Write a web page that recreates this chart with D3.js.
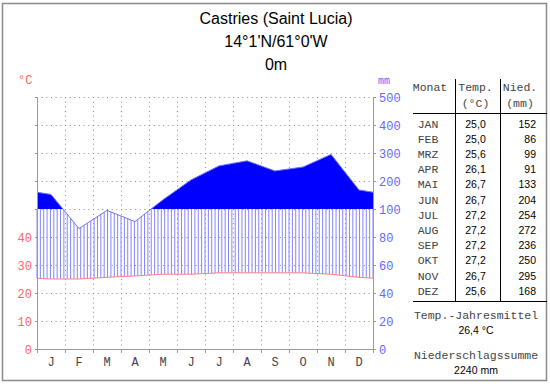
<!DOCTYPE html>
<html><head><meta charset="utf-8">
<script src="https://cdn.jsdelivr.net/npm/d3@7"></script>
<style>
body{margin:0;background:#fff;}
svg{display:block;}
</style></head>
<body>
<svg id="chart" width="550" height="384"></svg>
<script>
const months = ["J","F","M","A","M","J","J","A","S","O","N","D"];
const monthNames = ["JAN","FEB","MRZ","APR","MAI","JUN","JUL","AUG","SEP","OKT","NOV","DEZ"];
const temps = [25.0,25.0,25.6,26.1,26.7,26.7,27.2,27.2,27.2,27.2,26.7,25.6];
const precip = [152,86,99,91,133,204,254,272,236,250,295,168];
const tempLabels = ["25,0","25,0","25,6","26,1","26,7","26,7","27,2","27,2","27,2","27,2","26,7","25,6"];
const tempTicks = [0,10,20,30,40];
const precipTicks = [0,20,40,60,80,100,200,300,400,500];
const gridTemps = [0,10,20,30,40,50,60,70,80,90];
const titleLines = ["Castries (Saint Lucia)","14°1'N/61°0'W","0m"];
const meanTemp = "26,4 °C";
const totalPrecip = "2240 mm";

const svg = d3.select("#chart");
const L = 37, R = 373, B = 349, T = 97;
const x = d3.scaleLinear().domain([0,12]).range([L,R]);
const yT = d3.scaleLinear().domain([0,50,90]).range([B,209,T]);
const yP = d3.scaleLinear().domain([0,100,500]).range([B,209,T]);

svg.append("rect").attr("x",2.5).attr("y",3.5).attr("width",544).attr("height",377)
  .attr("fill","#fff").attr("stroke","#8a8a8a").attr("stroke-width",1.5);

// title
titleLines.forEach((t,i)=>{
  svg.append("text").attr("x",276).attr("y",24+i*23).attr("text-anchor","middle")
    .attr("font-family","Liberation Sans, Arial, sans-serif").attr("font-size",16)
    .attr("fill","#000").text(t);
});

// grid
const g = svg.append("g");
gridTemps.forEach(v=>{
  g.append("line").attr("x1",L).attr("x2",R).attr("y1",yT(v)+0.5).attr("y2",yT(v)+0.5)
   .attr("stroke","#888").attr("stroke-dasharray","1,3.67");
});
d3.range(1,12).forEach(i=>{
  g.append("line").attr("x1",x(i)+0.5).attr("x2",x(i)+0.5).attr("y1",T).attr("y2",B)
   .attr("stroke","#888").attr("stroke-dasharray","1,3.67");
});

// data series in pixel space
const edgeT = (temps[0]+temps[11])/2;
const edgeP = (precip[0]+precip[11])/2;
const tPts = [[x(0),yT(edgeT)]].concat(temps.map((v,i)=>[x(i+0.5),yT(v)])).concat([[x(12),yT(edgeT)]]);
const pPts = [[x(0),yP(edgeP)]].concat(precip.map((v,i)=>[x(i+0.5),yP(v)])).concat([[x(12),yP(edgeP)]]);
function interp(pts,px){
  for(let k=0;k<pts.length-1;k++){
    const a=pts[k], b=pts[k+1];
    if(px>=a[0]&&px<=b[0]){const t=(px-a[0])/(b[0]-a[0]);return a[1]+t*(b[1]-a[1]);}
  }
  return pts[pts.length-1][1];
}

// hatching (humid period)
const hatch = svg.append("g");
const step = (R-L)/100;
for(let k=0;k<=100;k++){
  const px = L + k*step;
  const yt = interp(tPts,px), yp = Math.max(interp(pPts,px), yP(100));
  if(yp < yt-0.5){
    hatch.append("line").attr("x1",px).attr("x2",px).attr("y1",yt).attr("y2",yp)
      .attr("stroke","#8585ff").attr("stroke-width",1);
  }
}

// solid fill above 100 mm
svg.append("clipPath").attr("id","above").append("rect")
  .attr("x",L).attr("y",0).attr("width",R-L).attr("height",yP(100));
svg.append("path").attr("clip-path","url(#above)")
  .attr("d", d3.area().x(d=>d[0]).y0(yP(100)).y1(d=>d[1])(pPts))
  .attr("fill","#0000ff");

// precip line (below part visible)
svg.append("path").attr("d", d3.line()(pPts)).attr("fill","none")
  .attr("stroke","#7070ff").attr("stroke-width",1);
// temperature line
svg.append("path").attr("d", d3.line()(tPts)).attr("fill","none")
  .attr("stroke","#ff8080").attr("stroke-width",1);

// axes
const ax = svg.append("g").attr("stroke","#999").attr("stroke-width",1);
ax.append("line").attr("x1",L+0.5).attr("x2",L+0.5).attr("y1",T).attr("y2",B+0.5);
ax.append("line").attr("x1",R+0.5).attr("x2",R+0.5).attr("y1",T).attr("y2",B+0.5);
ax.append("line").attr("x1",L).attr("x2",R+1).attr("y1",B+0.5).attr("y2",B+0.5);
gridTemps.forEach(v=>{
  ax.append("line").attr("x1",L-2).attr("x2",L).attr("y1",yT(v)+0.5).attr("y2",yT(v)+0.5);
  ax.append("line").attr("x1",R).attr("x2",R+3).attr("y1",yT(v)+0.5).attr("y2",yT(v)+0.5);
});
d3.range(0,13).forEach(i=>{
  ax.append("line").attr("x1",x(i)+0.5).attr("x2",x(i)+0.5).attr("y1",B).attr("y2",B+4);
});

const mono = "Liberation Mono, Courier New, monospace";
tempTicks.forEach(v=>{
  svg.append("text").attr("x",32).attr("y",yT(v)+4.5).attr("text-anchor","end")
   .attr("font-family",mono).attr("font-size",12).attr("fill","#ff6666").text(v);
});
precipTicks.forEach(v=>{
  svg.append("text").attr("x",379).attr("y",yP(v)+4.5).attr("text-anchor","start")
   .attr("font-family",mono).attr("font-size",12).attr("fill","#6666ff").text(v);
});
svg.append("text").attr("x",18).attr("y",84).attr("font-family",mono).attr("font-size",12)
  .attr("fill","#ff6666").text("°C");
svg.append("text").attr("x",378).attr("y",84).attr("font-family",mono).attr("font-size",10)
  .attr("fill","#6666ff").text("mm");
months.forEach((m,i)=>{
  svg.append("text").attr("x",x(i+0.5)).attr("y",366).attr("text-anchor","middle")
   .attr("font-family",mono).attr("font-size",12).attr("fill","#444").text(m);
});

// table
const sans = "Liberation Sans, Arial, sans-serif";
const tb = svg.append("g");
tb.append("line").attr("x1",413).attr("x2",547).attr("y1",113.5).attr("y2",113.5).attr("stroke","#000");
tb.append("line").attr("x1",413).attr("x2",547).attr("y1",301.5).attr("y2",301.5).attr("stroke","#000");
tb.append("line").attr("x1",455.5).attr("x2",455.5).attr("y1",79).attr("y2",301).attr("stroke","#000");
tb.append("line").attr("x1",500.5).attr("x2",500.5).attr("y1",79).attr("y2",301).attr("stroke","#000");
const hdr = (t,xx,yy,anchor)=>tb.append("text").attr("x",xx).attr("y",yy).attr("text-anchor",anchor)
  .attr("font-family",mono).attr("font-size",11.5).attr("fill","#444").text(t);
hdr("Monat",430,91,"middle");
hdr("Temp.",475.5,91,"middle");
hdr("(°C)",475.5,107,"middle");
hdr("Nied.",520,91,"middle");
hdr("(mm)",520,107,"middle");
monthNames.forEach((m,i)=>{
  const yy = 127.5 + i*15.2;
  hdr(m,428,yy,"middle");
  tb.append("text").attr("x",475.5).attr("y",yy).attr("text-anchor","middle")
    .attr("font-family",sans).attr("font-size",10.5).attr("fill","#000").text(tempLabels[i]);
  tb.append("text").attr("x",536).attr("y",yy).attr("text-anchor","end")
    .attr("font-family",sans).attr("font-size",10.5).attr("fill","#000").text(precip[i]);
});
hdr("Temp.-Jahresmittel",476,319,"middle");
tb.append("text").attr("x",476).attr("y",333.5).attr("text-anchor","middle")
  .attr("font-family",sans).attr("font-size",10.5).attr("fill","#000").text(meanTemp);
hdr("Niederschlagssumme",476,359,"middle");
tb.append("text").attr("x",476).attr("y",373.5).attr("text-anchor","middle")
  .attr("font-family",sans).attr("font-size",10.5).attr("fill","#000").text(totalPrecip);
</script>
</body></html>
